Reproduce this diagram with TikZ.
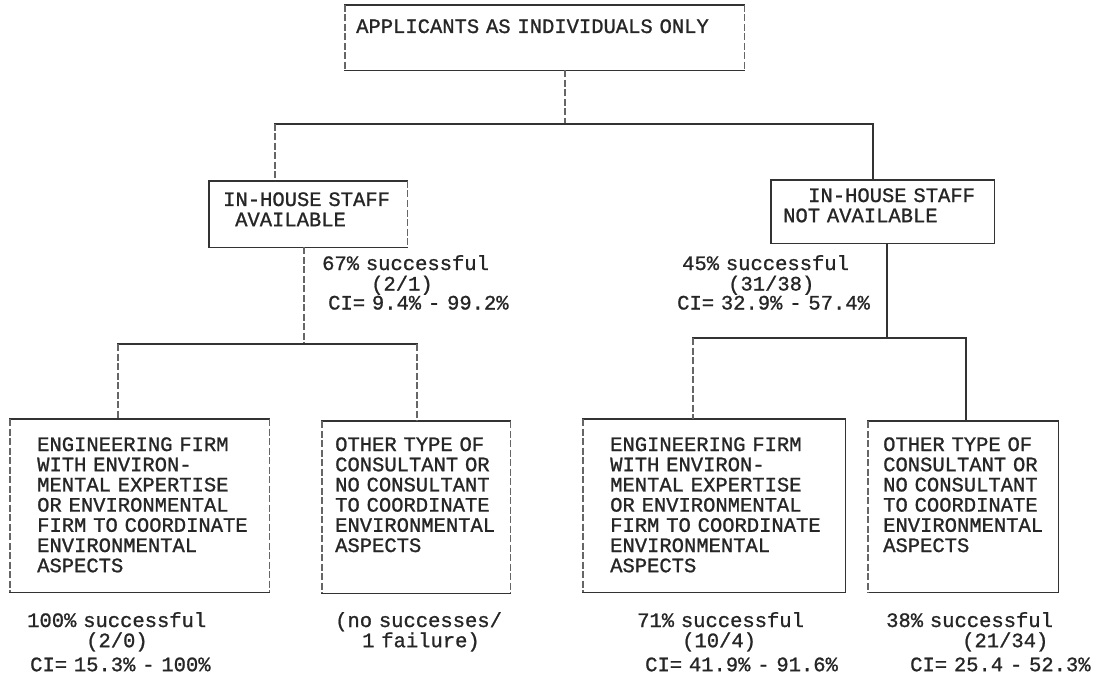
\documentclass[tikz,border=0pt]{standalone}
\usepackage{fontspec}
\newfontfamily\twfont[FakeBold=1]{Liberation Mono}

% draw the four sides of a box node: top/bottom solid, sides in the given styles
\newcommand\boxedges[3]{%
  \draw[edge] (#1.north west) -- (#1.north east);
  \draw[edge] (#1.south west) -- (#1.south east);
  \draw[edge,#2] (#1.north west) -- (#1.south west);
  \draw[edge,#3] (#1.north east) -- (#1.south east);}

\tikzset{
  edge/.style={line width=1.4pt, draw=black!80, line cap=rect},
  worn/.style={line width=1.1pt, draw=black!60, line cap=butt, dash pattern=on 7pt off 2.5pt},
  whole/.style={},
  boxn/.style={anchor=north west, inner sep=0pt, draw=none},
  txt/.style={anchor=base west, inner sep=0pt, text width=420pt, align=left,
    text=black!85, font=\twfont\fontsize{20.5pt}{20.2pt}\selectfont},
}

\begin{document}
\begin{tikzpicture}[x=1pt, y=-1pt]
\fill[white] (0,0) rectangle (1113,679);
\useasboundingbox (0,0) rectangle (1113,679);

% ---- boxes ----
\node[boxn, minimum width=399pt, minimum height=65pt] (top) at (345,5) {};
\node[boxn, minimum width=198pt, minimum height=66pt] (inL) at (209,181) {};
\node[boxn, minimum width=223pt, minimum height=63pt] (inR) at (771,180) {};
\node[boxn, minimum width=259pt, minimum height=173pt] (b1) at (10,419) {};
\node[boxn, minimum width=188pt, minimum height=172pt] (b2) at (322,421) {};
\node[boxn, minimum width=262pt, minimum height=173pt] (b3) at (583,419) {};
\node[boxn, minimum width=190pt, minimum height=171pt] (b4) at (868,421) {};

\boxedges{top}{worn}{worn}
\boxedges{inL}{whole}{worn}
\boxedges{inR}{whole}{whole}
\boxedges{b1}{worn}{worn}
\boxedges{b2}{worn}{worn}
\boxedges{b3}{worn}{whole}
\boxedges{b4}{worn}{whole}

% ---- box texts ----
\node[txt] (topT) at (356,33) {APPLICANTS AS INDIVIDUALS ONLY};
\node[txt] (inLT) at (223,206) {IN-HOUSE STAFF\\\hspace*{12pt}AVAILABLE};
\node[txt] (inRT) at (783,202) {\hspace*{25pt}IN-HOUSE STAFF\\NOT AVAILABLE};
\node[txt] (b1T) at (37,451) {ENGINEERING FIRM\\WITH ENVIRON-\\MENTAL EXPERTISE\\OR ENVIRONMENTAL\\FIRM TO COORDINATE\\ENVIRONMENTAL\\ASPECTS};
\node[txt] (b2T) at (335,451) {OTHER TYPE OF\\CONSULTANT OR\\NO CONSULTANT\\TO COORDINATE\\ENVIRONMENTAL\\ASPECTS};
\node[txt] (b3T) at (610,451) {ENGINEERING FIRM\\WITH ENVIRON-\\MENTAL EXPERTISE\\OR ENVIRONMENTAL\\FIRM TO COORDINATE\\ENVIRONMENTAL\\ASPECTS};
\node[txt] (b4T) at (883,451) {OTHER TYPE OF\\CONSULTANT OR\\NO CONSULTANT\\TO COORDINATE\\ENVIRONMENTAL\\ASPECTS};

% ---- outcome figures ----
\node[txt] (sL) at (322,270) {67\% successful\\[0.3pt]\hspace*{49pt}(2/1)\\[-1.2pt]\hspace*{6pt}CI= 9.4\% - 99.2\%};
\node[txt] (sR) at (677,270) {\hspace*{5pt}45\% successful\\[0.3pt]\hspace*{51pt}(31/38)\\[-1.2pt]CI= 32.9\% - 57.4\%};
\node[txt] (s1) at (27,627) {100\% successful\\\hspace*{59pt}(2/0)\\[3.8pt]\hspace*{3pt}CI= 15.3\% - 100\%};
\node[txt] (s2) at (335,627) {(no successes/\\\hspace*{27pt}1 failure)};
\node[txt] (s3) at (637,627) {71\% successful\\\hspace*{45pt}(10/4)\\[3.8pt]\hspace*{8pt}CI= 41.9\% - 91.6\%};
\node[txt] (s4) at (886,627) {38\% successful\\\hspace*{76pt}(21/34)\\[3.8pt]\hspace*{24pt}CI= 25.4 - 52.3\%};

% ---- junctions ----
\coordinate (j0) at (565,124);
\coordinate (jL) at (275,124);
\coordinate (jR) at (873,124);
\coordinate (kL) at (304,344);
\coordinate (k1) at (118,344);
\coordinate (k2) at (417,344);
\coordinate (kR) at (887,338);
\coordinate (k3) at (693,338);
\coordinate (k4) at (966,338);

% ---- connectors ----
\draw[edge,worn] (top.south -| j0) -- (j0);
\draw[edge] (jL) -- (jR);
\draw[edge,worn] (jL) -- (jL |- inL.north);
\draw[edge] (jR) -- (jR |- inR.north);

\draw[edge,worn] (inL.south -| kL) -- (kL);
\draw[edge] (k1) -- (k2);
\draw[edge,worn] (k1) -- (k1 |- b1.north);
\draw[edge,worn] (k2) -- (k2 |- b2.north);

\draw[edge] (inR.south -| kR) -- (kR);
\draw[edge] (k3) -- (k4);
\draw[edge,worn] (k3) -- (k3 |- b3.north);
\draw[edge] (k4) -- (k4 |- b4.north);
\end{tikzpicture}
\end{document}
